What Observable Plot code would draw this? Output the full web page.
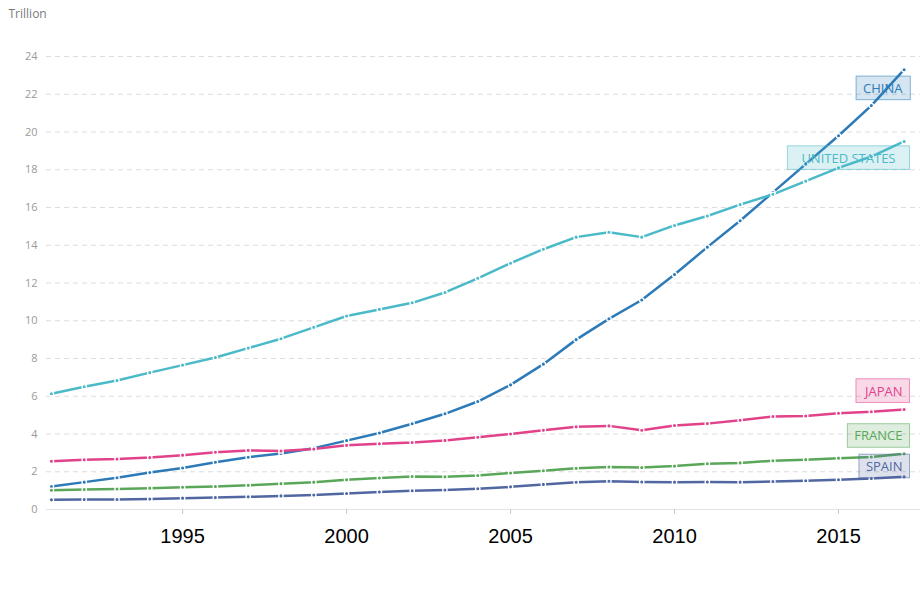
<!DOCTYPE html>
<html><head><meta charset="utf-8">
<script src="https://cdn.jsdelivr.net/npm/d3@7"></script>
<script src="https://cdn.jsdelivr.net/npm/@observablehq/plot@0.6"></script>
<style>
body{margin:0;background:#fff;font-family:"Open Sans",sans-serif}
#chart svg{display:block}
</style>
</head><body><div id="chart"></div>
<script>
const years = [1991,1992,1993,1994,1995,1996,1997,1998,1999,2000,2001,2002,2003,2004,2005,2006,2007,2008,2009,2010,2011,2012,2013,2014,2015,2016,2017];
const china  = [1.22,1.45,1.68,1.96,2.2,2.5,2.77,2.97,3.25,3.65,4.05,4.54,5.07,5.72,6.6,7.7,9.0,10.1,11.1,12.45,13.9,15.3,16.8,18.3,19.8,21.4,23.3];
const unitedStates = [6.13,6.5,6.83,7.25,7.65,8.05,8.55,9.05,9.65,10.25,10.6,10.95,11.5,12.25,13.05,13.79,14.43,14.69,14.43,15.05,15.55,16.15,16.7,17.4,18.1,18.7,19.5];
const japan  = [2.56,2.63,2.67,2.75,2.88,3.03,3.13,3.1,3.2,3.4,3.48,3.55,3.66,3.83,4.0,4.2,4.38,4.43,4.2,4.45,4.55,4.73,4.93,4.95,5.1,5.18,5.3];
const france = [1.02,1.06,1.09,1.13,1.18,1.22,1.28,1.37,1.45,1.57,1.67,1.75,1.73,1.8,1.93,2.05,2.18,2.25,2.22,2.3,2.42,2.47,2.58,2.64,2.72,2.78,2.95];
const spain  = [0.51,0.53,0.53,0.56,0.6,0.63,0.67,0.72,0.77,0.85,0.93,0.99,1.03,1.1,1.2,1.33,1.44,1.5,1.46,1.45,1.46,1.45,1.48,1.52,1.58,1.64,1.73];
const seriesNames = ["CHINA","UNITED STATES","JAPAN","FRANCE","SPAIN"];
const seriesValues = [china, unitedStates, japan, france, spain];
const colors = ["#2c7bb8","#4bbac8","#e2428a","#5aa75a","#5167a2"];
const yTicks = [0,2,4,6,8,10,12,14,16,18,20,22,24];
const xTicks = [1995,2000,2005,2010,2015];
const unitLabel = "Trillion";

const rows = seriesNames.flatMap((name,i)=>years.map((year,j)=>({name, year, value: seriesValues[i][j]})));
const ends = seriesNames.map((name,i)=>({name, year: years[years.length-1], value: seriesValues[i][years.length-1]}));
// label styling (pixel offsets and box padding)
const labelDy = {"CHINA":19, "UNITED STATES":17, "JAPAN":-18, "FRANCE":-17.5, "SPAIN":-10};
const labelPad = {"CHINA":7, "UNITED STATES":14, "JAPAN":7, "FRANCE":7, "SPAIN":7};

const labelMarks = ends.map((d,i)=>Plot.text([d], {
  x:"year", y:"value", text:"name", fill: colors[i], textAnchor:"end",
  dx: 5.4 - labelPad[d.name], dy: labelDy[d.name],
  fontSize:13, fontFamily:"Open Sans", className:"lbl", lineAnchor:"middle",
  ariaDescription: d.name
}));

const chart = Plot.plot({
  width:920, height:604,
  marginLeft:46, marginRight:0, marginTop:56, marginBottom:95,
  style:{background:"#fff", fontFamily:"Open Sans"},
  x:{domain:[1990.85,2017.5]},
  y:{domain:[0,24]},
  color:{domain:seriesNames, range:colors},
  marks:[
    Plot.gridY(yTicks.filter(d=>d>0), {stroke:"#dcdcdc", strokeOpacity:1, strokeDasharray:"5,4"}),
    Plot.ruleY([0], {stroke:"#e3e3e3", strokeWidth:1.2}),
    Plot.axisY(yTicks, {tickSize:0, tickPadding:9, fontSize:11, fill:"#9a9a9a", label:null, fontFamily:"Open Sans"}),
    Plot.axisX(xTicks, {tickSize:5, tickPadding:14, tickFormat:d=>String(d), fontSize:20, fontFamily:"Liberation Sans", fill:"#000", stroke:"#c8c8c8", label:null}),
    Plot.line(rows, {x:"year", y:"value", z:"name", stroke:"name", strokeWidth:2.5}),
    Plot.dot(rows, {x:"year", y:"value", fill:"name", r:2.2, stroke:"white", strokeWidth:1.3}),
    ...labelMarks,
    Plot.text([unitLabel], {frameAnchor:"top-left", text:d=>d, dx:-38, dy:-42, textAnchor:"start", lineAnchor:"middle", fontSize:12, fill:"#7a7a7a", fontFamily:"Open Sans"})
  ]
});
document.getElementById("chart").appendChild(chart);

// draw boxes behind the end labels
chart.querySelectorAll("g.lbl").forEach(g=>{
  const color = g.getAttribute("fill");
  g.querySelectorAll("text").forEach(t=>{
    const b = t.getBBox();
    const px = labelPad[t.textContent] ?? 7, py = 2.8;
    const r = document.createElementNS("http://www.w3.org/2000/svg","rect");
    r.setAttribute("x", b.x - px);
    r.setAttribute("y", b.y - py);
    r.setAttribute("width", b.width + 2*px);
    r.setAttribute("height", b.height + 2*py);
    if (t.getAttribute("transform")) r.setAttribute("transform", t.getAttribute("transform"));
    r.setAttribute("fill", color);
    r.setAttribute("fill-opacity", 0.2);
    r.setAttribute("stroke", color);
    r.setAttribute("stroke-opacity", 0.55);
    r.setAttribute("stroke-width", 1);
    g.insertBefore(r, t);
  });
});
</script>
</body></html>
